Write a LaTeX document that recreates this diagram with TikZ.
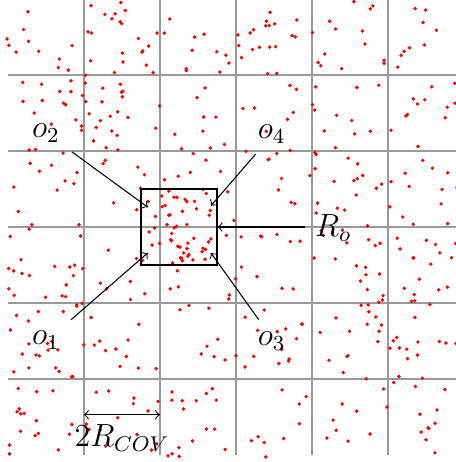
\documentclass[tikz,border=0pt]{standalone}
\usepackage{amsmath,amssymb}
\usepackage{tikz}

\begin{document}
\begin{tikzpicture}[>=to, every node/.style={font=\large},
  cell/.style={gray!80, line width=0.4pt},
  sample/.style={fill=red}]
\useasboundingbox (-0.105,-0.092) rectangle (5.895,5.987);
\foreach \k in {1,...,5} {
  \draw[cell] (\k,0) -- (\k,6);
  \draw[cell] (0,\k) -- (6,\k);
}
\pgfmathsetseed{4711}
\foreach \i in {1,...,490}
  \fill[sample] (-0.03+6*rnd,-0.03+6*rnd) circle (0.72pt);
\foreach \i in {1,...,34}
  \fill[sample] (1.8+0.9*rnd,2.55+0.9*rnd) circle (0.72pt);
\node[draw, line width=0.5pt, minimum size=1cm, inner sep=0pt] (roi) at (2.25,3) {};
\node (o2) at (0.5,4.24) {$o_2$};
\node (o4) at (3.47,4.22) {$o_4$};
\node (o1) at (0.5,1.51) {$o_1$};
\node (o3) at (3.47,1.5) {$o_3$};
\node (ro) at (4.28,2.99) {$R_o$};
\node (rcov) at (1.5,0.22) {$2R_{COV}$};
\coordinate (o2s) at (0.84,3.99);
\coordinate (o2t) at (1.84,3.26);
\coordinate (o4s) at (3.26,3.96);
\coordinate (o4t) at (2.67,3.28);
\coordinate (o1s) at (0.83,1.78);
\coordinate (o1t) at (1.84,2.66);
\coordinate (o3s) at (3.3,1.78);
\coordinate (o3t) at (2.67,2.66);
\coordinate (ros) at (3.91,3);
\draw[->] (o2s) -- (o2t);
\draw[->] (o4s) -- (o4t);
\draw[->] (o1s) -- (o1t);
\draw[->] (o3s) -- (o3t);
\draw[->] (ros) -- (roi.east);
\coordinate (ca) at (1,0.53);
\coordinate (cb) at (2,0.53);
\draw[<->] (ca) -- (cb);
\end{tikzpicture}
\end{document}
